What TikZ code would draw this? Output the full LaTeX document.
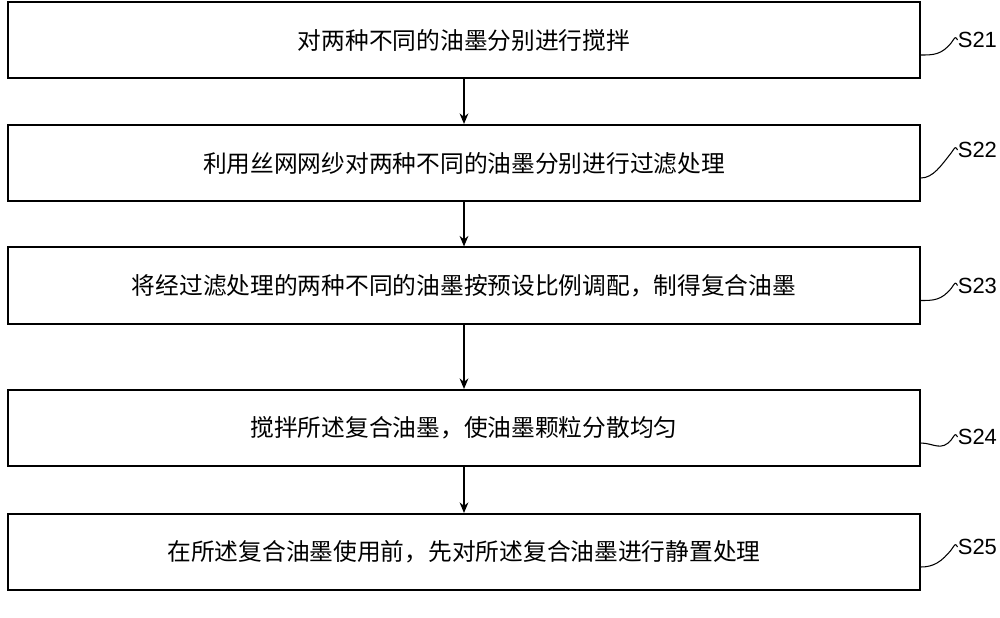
\documentclass[tikz,border=0pt]{standalone}
\usepackage{fontspec}
\setmainfont{Liberation Sans}
\newfontfamily\cjk{Noto Sans CJK SC}
\usetikzlibrary{arrows.meta}
\tikzset{
    stepbox/.style={draw, line width=0.9pt, minimum width=18.24cm, minimum height=1.53cm, font=\cjk\fontsize{13.5}{15}\selectfont},
    steplabel/.style={anchor=west, inner sep=0pt, font=\fontsize{12.5}{14}\selectfont},
    flow/.style={-{Stealth[length=6pt,width=5pt]}, line width=0.8pt}
}
\begin{document}
\begin{tikzpicture}
                \useasboundingbox (0,0) rectangle (20,12.34);
                \node[stepbox] (s1) at (9.28,11.54) {对两种不同的油墨分别进行搅拌};
                \node[stepbox] (s2) at (9.28,9.08) {利用丝网网纱对两种不同的油墨分别进行过滤处理};
                \node[stepbox] (s3) at (9.28,6.63) {将经过滤处理的两种不同的油墨按预设比例调配，制得复合油墨};
                \node[stepbox] (s4) at (9.28,3.78) {搅拌所述复合油墨，使油墨颗粒分散均匀};
                \node[stepbox] (s5) at (9.28,1.3) {在所述复合油墨使用前，先对所述复合油墨进行静置处理};
                \draw[flow] (s1) -- (s2);
                \draw[flow] (s2) -- (s3);
                \draw[flow] (s3) -- (s4);
                \draw[flow] (s4) -- (s5);
                % labels with wavy leaders
                \foreach \n/\lab/\y in {1/S21/11.54, 2/S22/9.34, 3/S23/6.63, 4/S24/3.6, 5/S25/1.4} {
                    \node[steplabel] (l\n) at (19.15,\y) {\lab};
                    \draw[line width=0.6pt] ([yshift=-0.3cm]s\n.east) .. controls +(0.25,0) and +(-0.2,-0.25) .. ([xshift=-0.12cm,yshift=-0.05cm]l\n.west) .. controls +(0.08,0.12) .. (l\n.west);
                }
            \end{tikzpicture}
\end{document}
